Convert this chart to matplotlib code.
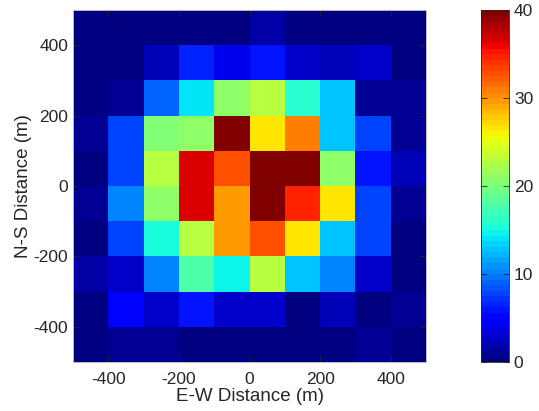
import numpy as np
import matplotlib.pyplot as plt

# cell edges (m) and counts per 100 m x 100 m cell, rows from north (top) to south
x_edges = np.arange(-500, 501, 100)
y_edges = np.arange(500, -501, -100)
counts = [
    [0.3, 0.3, 0.3, 0.3, 0.3, 1.5, 0.3, 0.3, 0.3, 0.3],
    [0.3, 0.3, 2.0, 6.5, 4.3, 6.2, 3.0, 2.0, 3.0, 0.3],
    [0.3, 1.0, 9.0, 14.0, 21.0, 23.0, 16.0, 13.0, 1.0, 1.0],
    [1.0, 8.0, 20.5, 21.0, 40.0, 26.5, 31.0, 13.0, 8.0, 1.0],
    [0.3, 8.0, 23.0, 36.5, 33.0, 40.0, 40.0, 21.0, 6.0, 2.0],
    [1.0, 10.5, 21.0, 36.5, 29.5, 40.0, 34.5, 26.5, 8.0, 1.0],
    [0.3, 8.0, 15.5, 23.0, 29.5, 33.0, 26.5, 13.0, 8.0, 0.3],
    [1.5, 3.0, 10.5, 18.0, 14.5, 23.0, 13.0, 10.5, 3.0, 0.3],
    [0.5, 5.0, 3.0, 6.0, 3.0, 3.0, 0.3, 2.0, 0.0, 1.0],
    [0.5, 1.0, 1.0, 0.5, 0.5, 0.5, 0.5, 0.5, 1.0, 0.5],
]
ticks = [-400, -200, 0, 200, 400]
cbar_ticks = [0, 10, 20, 30, 40]

plt.rcParams['font.family'] = ['Liberation Sans', 'DejaVu Sans']
plt.rcParams['axes.unicode_minus'] = False
text_color = '#262626'

fig = plt.figure(figsize=(5.39, 4.11), dpi=100)
ax = fig.add_axes([73 / 539, 1 - 362 / 411, (426 - 73) / 539, (362 - 10) / 411])
cax = fig.add_axes([481 / 539, 1 - 362 / 411, (509 - 481) / 539, (362 - 10) / 411])

mesh = ax.pcolormesh(x_edges, y_edges, np.array(counts), cmap=plt.get_cmap('jet', 64),
                     vmin=0, vmax=40)
ax.set_xlim(-500, 500)
ax.set_ylim(-500, 500)
ax.set_xticks(ticks)
ax.set_yticks(ticks)
ax.tick_params(direction='in', top=True, right=True, length=4, width=0.6,
               colors=text_color, labelsize=12.5, labelcolor=text_color)
ax.tick_params(axis='x', pad=7)
for s in ax.spines.values():
    s.set_color('#bdbdbd')
    s.set_linewidth(0.7)
ax.set_xlabel('E-W Distance (m)', fontsize=13.5, color=text_color, labelpad=1)
ax.set_ylabel('N-S Distance (m)', fontsize=13.5, color=text_color, labelpad=1)

cb = fig.colorbar(mesh, cax=cax, ticks=cbar_ticks)
cb.outline.set_edgecolor('#262626')
cb.outline.set_linewidth(0.6)
cax.tick_params(direction='in', length=4, width=0.6, colors=text_color,
                labelsize=12.5, labelcolor=text_color, left=True)

fig.savefig('out.png', dpi=100)
